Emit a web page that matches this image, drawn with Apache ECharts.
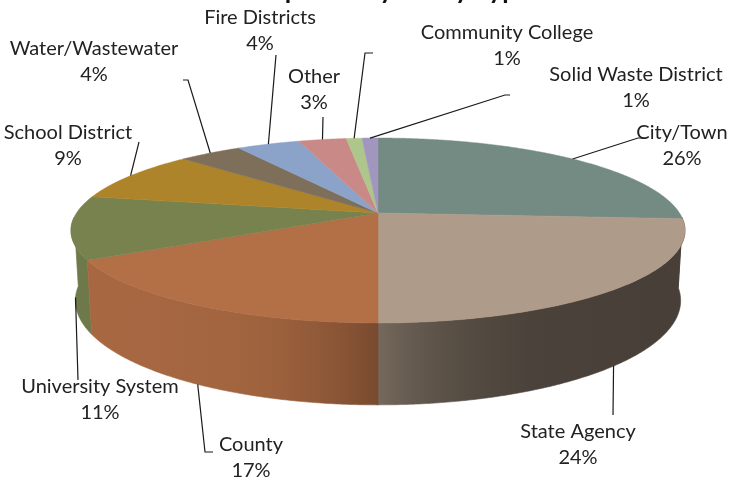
<!DOCTYPE html>
<html><head><meta charset="utf-8">
<script src="https://cdn.jsdelivr.net/npm/echarts@6/dist/echarts.min.js"></script>
<style>html,body{margin:0;padding:0;background:#fff}#c{width:741px;height:483px}</style>
</head><body><div id="c"></div>
<script>
// ---- data ----
const categories = ['City/Town','State Agency','County','University System','School District','Water/Wastewater','Fire Districts','Other','Community College','Solid Waste District'];
const values = [26, 24, 17, 11, 9, 4, 4, 3, 1, 1];
const titleText = 'Participation by Entity Type';

// ---- styles / layout (not data) ----
const colors = ['#748b84','#ae9b89','#b36f46','#77824f','#ad8429','#7e6f5b','#8ba2c9','#c98a87','#aec58b','#a196bd'];
// text centre of each label, and leader elbow / end points
const labelPos   = [[682,146],[578,445],[251,458],[100,400],[68,146],[94,62],[260,31],[314,90],[507,46],[636,88]];
const labelElbow = [[638,138],[613,415],[205,452],[78,380],[139,142],[188,80],[276,55],[323,117],[365,53],[505,95]];
const labelEnd   = [[645,138],null,[213,452],null,null,[183,80],null,null,[373,53],[510,95]];
const view = { cx: 378, cy: 213, s: 301.5, elev: 17.2 * Math.PI / 180, D: 5.05, H: 0.24 };

const total = values.reduce((a, b) => a + b, 0);
const starts = [];
values.reduce((acc, v, i) => { starts[i] = acc; return acc + v; }, 0);

const cosE = Math.cos(view.elev), sinE = Math.sin(view.elev);
function proj(X, Y, Z) {
  const d = view.D - (Y * cosE + Z * sinE);
  const f = view.D / d;
  const u = Z * cosE - Y * sinE;
  return [view.cx + view.s * X * f, view.cy - view.s * u * f];
}
function rim(phi, Z) { return proj(Math.sin(phi), -Math.cos(phi), Z); }
function shade(hex, k) {
  const n = parseInt(hex.slice(1), 16);
  const r = Math.round(((n >> 16) & 255) * k), g = Math.round(((n >> 8) & 255) * k), b = Math.round((n & 255) * k);
  return 'rgb(' + r + ',' + g + ',' + b + ')';
}
function wallFactor(X) { return 0.67 - 0.26 * Math.tanh(3 * X); }
const xL = view.cx - view.s * 1.02, xR = view.cx + view.s * 1.02;
function wallGradient(hex) {
  const stops = [];
  for (let k = 0; k <= 20; k++) {
    const t = k / 20;
    const X = -1.02 + 2.04 * t;
    stops.push({ offset: t, color: shade(hex, wallFactor(Math.max(-1, Math.min(1, X)))) });
  }
  return { type: 'linear', x: xL, y: 0, x2: xR, y2: 0, global: true, colorStops: stops };
}

function renderItem(params, api) {
  const i = params.dataIndex;
  const v = api.value(0);
  const a0 = starts[i] / total * Math.PI * 2;
  const a1 = (starts[i] + v) / total * Math.PI * 2;
  const children = [];
  const step = Math.PI / 360;
  // wall (front part only)
  const wMin = Math.acos(-0.05), wMax = 2 * Math.PI - wMin;
  const w0 = Math.max(a0, wMin), w1 = Math.min(a1, wMax);
  if (w1 > w0) {
    const m = Math.max(2, Math.ceil((w1 - w0) / step));
    const top = [], bot = [];
    for (let k = 0; k <= m; k++) {
      const p = w0 + (w1 - w0) * k / m;
      top.push(rim(p, 0));
      bot.push(rim(p, -view.H));
    }
    const g = wallGradient(colors[i]);
    children.push({
      type: 'polygon', z2: Math.round(-Math.cos((w0 + w1) / 2) * 1000),
      shape: { points: top.concat(bot.reverse()) },
      style: { fill: g, stroke: g, lineWidth: 0.6 }
    });
  }
  // top face
  const n = Math.max(2, Math.ceil((a1 - a0) / step));
  const pts = [proj(0, 0, 0)];
  for (let k = 0; k <= n; k++) pts.push(rim(a0 + (a1 - a0) * k / n, 0));
  children.push({ type: 'polygon', z2: 5000, shape: { points: pts },
    style: { fill: colors[i], stroke: colors[i], lineWidth: 0.5 } });
  // leader line
  const am = (a0 + a1) / 2;
  const anchor = (-Math.cos(am) > 0.1) ? rim(am, -view.H) : rim(am, 0);
  const lp = [anchor, labelElbow[i]];
  if (labelEnd[i]) lp.push(labelEnd[i]);
  children.push({ type: 'polyline', z2: 9000, shape: { points: lp },
    style: { stroke: '#1a1a1a', lineWidth: 1.2, fill: null } });
  const pct = Math.round(v / total * 100);
  children.push({ type: 'text', z2: 9001,
    style: { text: categories[i] + '\n' + pct + '%', x: labelPos[i][0], y: labelPos[i][1],
      align: 'center', verticalAlign: 'middle', font: '20px Lato', lineHeight: 26, fill: '#222' } });
  return { type: 'group', children: children };
}

const chart = echarts.init(document.getElementById('c'), null, { renderer: 'canvas' });
chart.setOption({
  animation: false,
  backgroundColor: '#ffffff',
  title: { text: titleText, left: 'center', top: -27,
    textStyle: { fontSize: 26, fontWeight: 'bold', fontFamily: 'Lato', color: '#111' } },
  series: [{
    type: 'custom', coordinateSystem: 'none', renderItem: renderItem,
    data: values.map(v => [v])
  }]
});
</script></body></html>
